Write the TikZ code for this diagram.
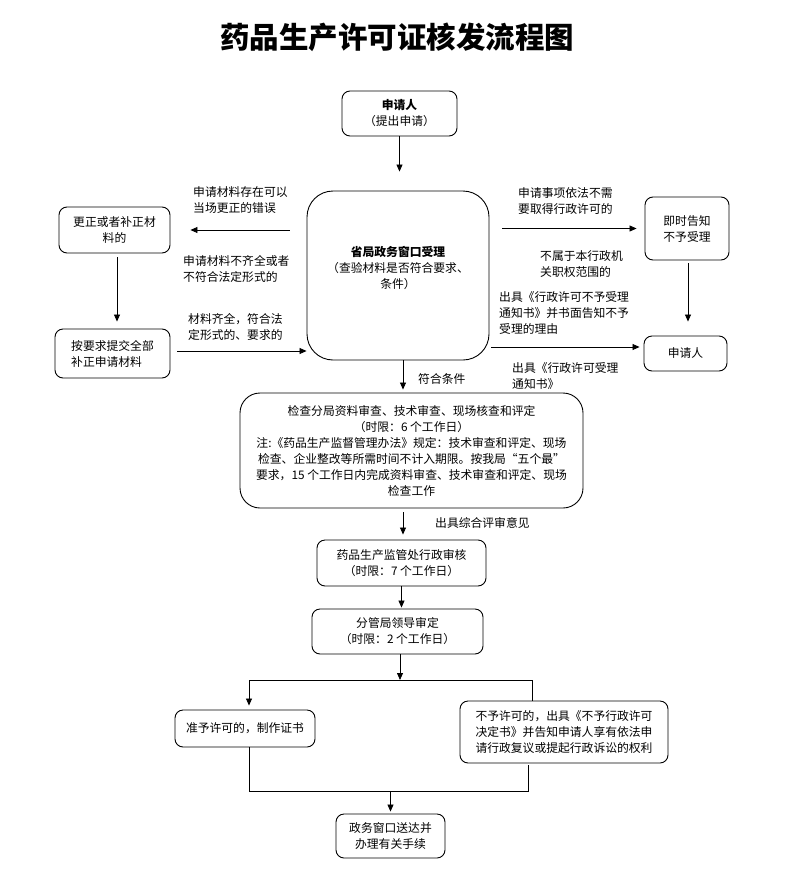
\documentclass[tikz,border=0pt]{standalone}
\usepackage{fontspec}
\setmainfont{Noto Sans CJK SC}
\usetikzlibrary{arrows.meta}
\newcommand{\fs}{\fontsize{11.8}{16}\selectfont}
\begin{document}
\begin{tikzpicture}[x=1pt,y=-1pt,
  box/.style={draw, line width=0.9pt, rounded corners=8pt, align=center, inner sep=0pt, font=\fs},
  bigbox/.style={box, rounded corners=26pt},
  lbl/.style={anchor=north west, align=left, inner sep=0pt, font=\fs},
  arr/.style={-{Triangle[length=7pt,width=6pt]}, line width=0.8pt},
  ln/.style={line width=0.8pt}]
\useasboundingbox[fill=white] (0,0) rectangle (793,881);
\node[font=\fontsize{29.5}{33}\selectfont\bfseries] (title) at (397,37) {药品生产许可证核发流程图};
% boxes
\node[box, minimum width=115pt, minimum height=45pt] (app) at (399.5,113.5) {\textbf{申请人}\\（提出申请）};
\node[bigbox, minimum width=182pt, minimum height=169pt] (main) at (398,275.5) {\textbf{省局政务窗口受理}\\（查验材料是否符合要求、\\条件）\\ ~};
\node[box, minimum width=111pt, minimum height=46pt] (fix) at (114.5,230) {更正或者补正材\\料的};
\node[box, minimum width=115pt, minimum height=49pt, align=left] (resub) at (112.5,353.5) {按要求提交全部\\补正申请材料};
\node[box, minimum width=84pt, minimum height=63pt] (notify) at (687,228.5) {即时告知\\不予受理};
\node[box, minimum width=83pt, minimum height=35pt] (app2) at (685.5,353.5) {申请人};
\node[bigbox, minimum width=343pt, minimum height=115pt, rounded corners=20pt] (check) at (411.5,450.5) {检查分局资料审查、技术审查、现场核查和评定\\（时限：6 个工作日）\\注:《药品生产监督管理办法》规定：技术审查和评定、现场\\检查、企业整改等所需时间不计入期限。按我局“五个最”\\要求，15 个工作日内完成资料审查、技术审查和评定、现场\\检查工作};
\node[box, minimum width=169pt, minimum height=46pt] (review) at (401.5,563) {药品生产监管处行政审核\\（时限：7 个工作日）};
\node[box, minimum width=171pt, minimum height=45pt] (leader) at (397.5,631.5) {分管局领导审定\\（时限：2 个工作日）};
\node[box, minimum width=140pt, minimum height=37pt] (grant) at (245,728.5) {准予许可的，制作证书};
\node[box, minimum width=208pt, minimum height=62pt, align=left] (deny) at (564,732) {不予许可的，出具《不予行政许可\\决定书》并告知申请人享有依法申\\请行政复议或提起行政诉讼的权利};
\node[box, minimum width=109pt, minimum height=44pt] (deliver) at (390.5,836) {政务窗口送达并\\办理有关手续};
% labels
\node[lbl] (l1) at (193,186) {申请材料存在可以\\当场更正的错误};
\node[lbl] (l2) at (183,255) {申请材料不齐全或者\\不符合法定形式的};
\node[lbl] (l3) at (188,313) {材料齐全，符合法\\定形式的、要求的};
\node[lbl] (l4) at (518,187) {申请事项依法不需\\要取得行政许可的};
\node[lbl] (l5) at (540,250) {不属于本行政机\\关职权范围的};
\node[lbl] (l6) at (499,291) {出具《行政许可不予受理\\通知书》并书面告知不予\\受理的理由};
\node[lbl] (l7) at (512,362) {出具《行政许可受理\\通知书》};
\node[lbl] (l8) at (418,373) {符合条件};
\node[lbl] (l9) at (435,517) {出具综合评审意见};
% coordinates
\coordinate (sl) at (249,680);
\coordinate (sr) at (532,680);
\coordinate (ml) at (249,791);
\coordinate (mr) at (528,791);
% connectors
\draw[arr, shorten >=19pt] (app.south) -- (app.south |- main.north);
\draw[arr, shorten <=17pt, shorten >=20pt] (main.west |- fix.east) -- (fix.east);
\draw[arr, shorten <=4pt, shorten >=7pt] ([xshift=2.5pt]fix.south) -- ([xshift=2.5pt]fix.south |- resub.north);
\draw[arr, shorten <=7pt] ([yshift=2.5pt]resub.east) -- ([yshift=2.5pt]resub.east -| main.west);
\draw[arr, shorten <=13pt, shorten >=8pt] (main.east |- notify.west) -- (notify.west);
\draw[arr, shorten <=3pt, shorten >=14pt] ([xshift=1pt]notify.south) -- ([xshift=1pt]notify.south |- app2.north);
\draw[arr, shorten <=2pt, shorten >=4pt] ([yshift=6.5pt]app2.west -| main.east) -- ([yshift=6.5pt]app2.west);
\draw[arr, shorten >=3pt] ([xshift=5pt]main.south) -- ([xshift=5pt]main.south |- check.north);
\draw[arr, shorten <=4pt, shorten >=5pt] ([xshift=1.5pt]review.north |- check.south) -- ([xshift=1.5pt]review.north);
\draw[arr, shorten >=1pt] (review.south) -- (review.south |- leader.north);
\draw[arr] ([xshift=2.5pt]leader.south) -- ([xshift=2.5pt]leader.south |- sl);
\draw[ln] (sl) -- (sr);
\draw[arr, shorten >=4pt] (sl) -- (sl |- grant.north);
\draw[ln] (sr) -- (sr |- deny.north);
\draw[ln] (grant.south -| ml) -- (ml) -- (mr) -- ([yshift=-2pt]deny.south -| mr);
\draw[arr, shorten >=2pt] (deliver.north |- ml) -- (deliver.north);
\end{tikzpicture}
\end{document}
